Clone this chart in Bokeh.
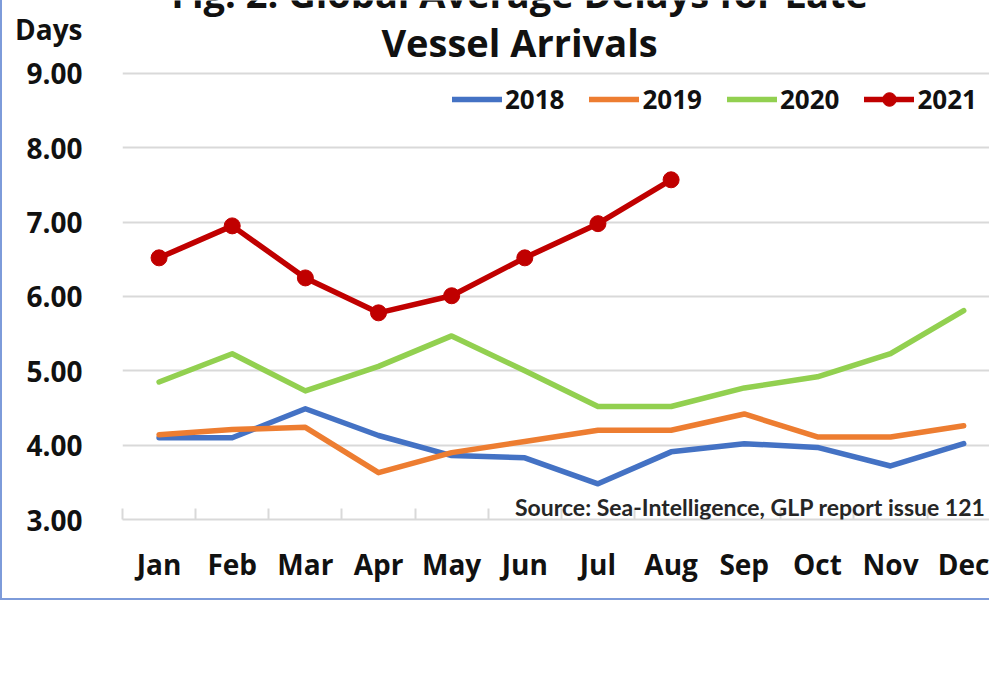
from bokeh.plotting import figure
from bokeh.models import (Range1d, FixedTicker, NumeralTickFormatter, Legend,
                          LegendItem, Label)
from bokeh.embed import file_html
from bokeh.resources import INLINE

# ---- data ----
months = ["Jan", "Feb", "Mar", "Apr", "May", "Jun",
          "Jul", "Aug", "Sep", "Oct", "Nov", "Dec"]
month_pos = [1, 2, 3, 4, 5, 6, 7, 8, 9, 10, 11, 12]
delay_2018 = [4.10, 4.10, 4.49, 4.13, 3.86, 3.83, 3.48, 3.91, 4.02, 3.97, 3.72, 4.02]
delay_2019 = [4.14, 4.21, 4.24, 3.63, 3.90, 4.05, 4.20, 4.20, 4.42, 4.11, 4.11, 4.26]
delay_2020 = [4.85, 5.23, 4.73, 5.06, 5.47, 5.00, 4.52, 4.52, 4.77, 4.92, 5.23, 5.81]
delay_2021 = [6.52, 6.95, 6.25, 5.78, 6.01, 6.52, 6.98, 7.57]
y_ticks = [3, 4, 5, 6, 7, 8, 9]
y_unit_pos = 9.60          # where the "Days" unit label sits on the y axis
y_unit_label = "Days"
series_names = ["2018", "2019", "2020", "2021"]

FONT = "Open Sans"
TXT = "#111111"
GRID = "#D9D9D9"

p = figure(width=989, height=600, output_backend="svg", toolbar_location=None,
           x_range=Range1d(0.5, 12.38), y_range=Range1d(3, 9.982),
           min_border_left=120, min_border_right=0, min_border_top=0,
           min_border_bottom=81)
p.styles = {"border-left": "2px solid #7D9BDA", "border-bottom": "2px solid #7D9BDA"}
p.outline_line_color = None
p.background_fill_color = "white"
p.border_fill_color = "white"

# x axis
p.xaxis.ticker = FixedTicker(ticks=month_pos,
                             minor_ticks=[m - 0.5 for m in month_pos] + [12.5])
p.xaxis.major_label_overrides = {m: name for m, name in zip(month_pos, months)}
p.xaxis.major_tick_line_color = None
p.xaxis.minor_tick_in = 11
p.xaxis.minor_tick_out = 0
p.xaxis.minor_tick_line_color = GRID
p.xaxis.minor_tick_line_width = 2
p.xaxis.axis_line_color = GRID
p.xaxis.axis_line_width = 2
p.xaxis.major_label_standoff = 19
p.xaxis.major_label_text_font = FONT
p.xaxis.major_label_text_font_style = "bold"
p.xaxis.major_label_text_font_size = "28px"
p.xaxis.major_label_text_color = TXT
p.xgrid.grid_line_color = None

# y axis (numbers plus the unit label on top)
p.yaxis.ticker = FixedTicker(ticks=y_ticks + [y_unit_pos])
p.yaxis.formatter = NumeralTickFormatter(format="0.00")
p.yaxis.major_label_overrides = {y_unit_pos: y_unit_label}
p.yaxis.axis_line_color = None
p.yaxis.major_tick_line_color = None
p.yaxis.minor_tick_line_color = None
p.yaxis.major_tick_in = 0
p.yaxis.major_tick_out = 0
p.yaxis.major_label_standoff = 40
p.yaxis.major_label_text_font = FONT
p.yaxis.major_label_text_font_style = "bold"
p.yaxis.major_label_text_font_size = "28px"
p.yaxis.major_label_text_color = TXT
p.ygrid.ticker = FixedTicker(ticks=y_ticks)
p.ygrid.grid_line_color = GRID
p.ygrid.grid_line_width = 2

# series
lw = 5.5
r18 = p.line(month_pos, delay_2018, line_color="#4472C4", line_width=lw,
             line_join="round", line_cap="round")
r19 = p.line(month_pos, delay_2019, line_color="#ED7D31", line_width=lw,
             line_join="round", line_cap="round")
r20 = p.line(month_pos, delay_2020, line_color="#92D050", line_width=lw,
             line_join="round", line_cap="round")
r21 = p.line(month_pos[:len(delay_2021)], delay_2021, line_color="#C00000",
             line_width=lw, line_join="round", line_cap="round")
r21m = p.scatter(month_pos[:len(delay_2021)], delay_2021, size=16,
                 fill_color="#C00000", line_color="#C00000")

legend = Legend(items=[LegendItem(label=series_names[0], renderers=[r18]),
                       LegendItem(label=series_names[1], renderers=[r19]),
                       LegendItem(label=series_names[2], renderers=[r20]),
                       LegendItem(label=series_names[3], renderers=[r21, r21m])],
                location=(330, 402), orientation="horizontal",
                glyph_width=50, glyph_height=34, label_height=30,
                label_standoff=3, spacing=25, padding=0, margin=0,
                label_text_font=FONT, label_text_font_style="bold",
                label_text_font_size="26px", label_text_color=TXT,
                border_line_color=None, background_fill_alpha=0)
p.add_layout(legend)

# titles and notes
p.add_layout(Label(x=397, y=527, x_units="screen", y_units="screen",
                   text="Fig. 2: Global Average Delays for Late",
                   text_align="center", text_baseline="alphabetic",
                   text_font=FONT, text_font_style="bold",
                   text_font_size="38px", text_color=TXT))
p.add_layout(Label(x=397, y=478, x_units="screen", y_units="screen",
                   text="Vessel Arrivals", text_align="center",
                   text_baseline="alphabetic", text_font=FONT,
                   text_font_style="bold", text_font_size="38px",
                   text_color=TXT))
p.add_layout(Label(x=863, y=13, x_units="screen", y_units="screen",
                   text="Source: Sea-Intelligence, GLP report issue 121",
                   text_align="right", text_baseline="alphabetic",
                   text_font="Lato", text_font_style="bold",
                   text_font_size="23px", text_color="#262626"))

open("out.html", "w").write(file_html(p, INLINE))
